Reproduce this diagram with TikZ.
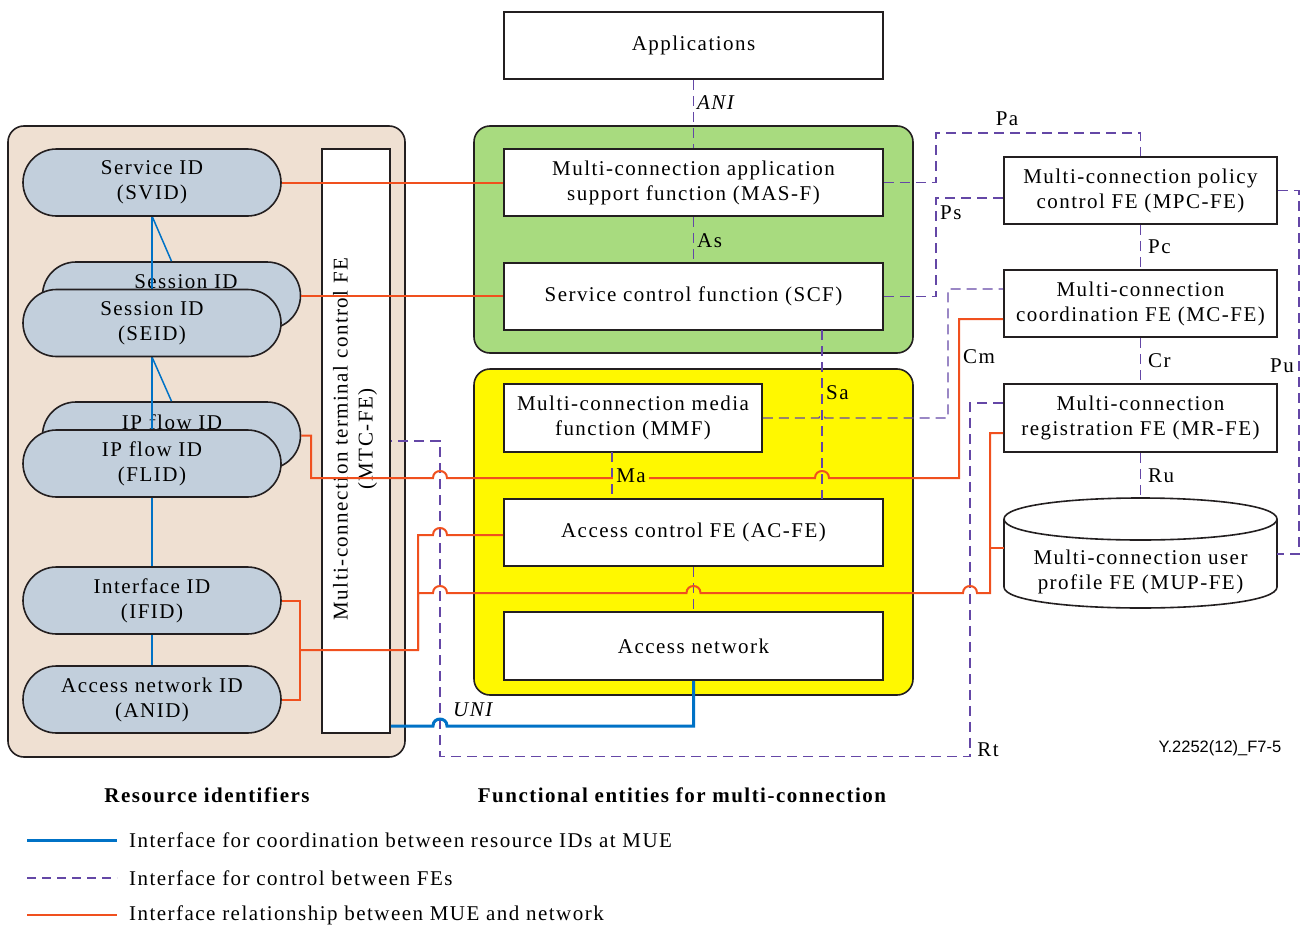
\documentclass[tikz,border=0pt]{standalone}
\usepackage{fontspec}
\setmainfont{Liberation Serif}[LetterSpace=7]
\newfontfamily\figsans{Liberation Sans}
\usetikzlibrary{shapes.misc}
\definecolor{beige}{HTML}{EFE0D2}
\definecolor{ovalc}{HTML}{C2CFDC}
\definecolor{greenc}{HTML}{A8DB7F}
\definecolor{yellowc}{HTML}{FFF800}
\definecolor{relc}{HTML}{F0501E}
\definecolor{ctlc}{HTML}{6447A6}
\definecolor{coordc}{HTML}{0072C6}
\definecolor{edgec}{HTML}{231F20}
\tikzset{
  every node/.style={font=\fontsize{21}{25}\selectfont, inner sep=0pt},
  fbox/.style={draw=edgec, fill=white, line width=1.6pt, align=center},
  panel/.style={draw=edgec, line width=1.6pt, rounded corners=16pt},
  oval/.style={rounded rectangle, rounded rectangle arc length=180, draw=edgec, fill=ovalc,
    line width=1.6pt, minimum width=258pt, minimum height=67pt, align=center},
  ctl/.style={draw=ctlc, line width=1.2pt, dash pattern=on 10pt off 6pt},
  rel/.style={draw=relc, line width=2pt},
  crd/.style={draw=coordc, line width=3pt},
  lbl/.style={anchor=west},
  jmp/.style 2 args={insert path={-- ({#1-7},#2) .. controls ({#1-7},{#2-9.3}) and ({#1+7},{#2-9.3}) .. ({#1+7},#2)}},
  sjmp/.style 2 args={insert path={-- ({#1-3},#2) .. controls ({#1-3},{#2-4}) and ({#1+3},{#2-4}) .. ({#1+3},#2)}},
}
\begin{document}
\begin{tikzpicture}[x=1pt,y=-1pt]
\useasboundingbox (0,0) rectangle (1301,926);

% panels
\draw[panel, fill=beige] (8,126) rectangle (405,757);
\draw[panel, fill=greenc] (474,126) rectangle (913,353);
\draw[panel, fill=yellowc] (474,369) rectangle (913,695);

% top and middle boxes
\node[fbox, minimum width=379pt, minimum height=67pt] (apps) at (693.5,45.5) {Applications};
\node[fbox, minimum width=379pt, minimum height=67pt] (masf) at (693.5,182.5) {Multi-connection application\\support function (MAS-F)};
\node[fbox, minimum width=379pt, minimum height=67pt] (scf) at (693.5,296.5) {Service control function (SCF)};
\node[fbox, minimum width=258pt, minimum height=68pt] (mmf) at (633,418) {Multi-connection media\\function (MMF)};
\node[fbox, minimum width=379pt, minimum height=67pt] (acfe) at (693.5,532.5) {Access control FE (AC-FE)};
\node[fbox, minimum width=379pt, minimum height=68pt] (an) at (693.5,646) {Access network};

% right boxes
\node[fbox, minimum width=273pt, minimum height=67pt] (mpc) at (1140.5,190.5) {Multi-connection policy\\control FE (MPC-FE)};
\node[fbox, minimum width=273pt, minimum height=67pt] (mcfe) at (1140.5,303.5) {Multi-connection\\coordination FE (MC-FE)};
\node[fbox, minimum width=273pt, minimum height=68pt] (mrfe) at (1140.5,418) {Multi-connection\\registration FE (MR-FE)};
% cylinder
\node[minimum width=273pt, minimum height=110pt] (mup) at (1140.5,553) {};
\filldraw[draw=edgec, fill=white, line width=1.6pt]
  (1004,519) .. controls (1004,491) and (1277,491) .. (1277,519)
  -- (1277,587) .. controls (1277,615) and (1004,615) .. (1004,587) -- cycle;
\draw[edgec, line width=1.6pt] (1004,519) .. controls (1004,547) and (1277,547) .. (1277,519);
\node[align=center] at (1140.5,572) {Multi-connection user\\profile FE (MUP-FE)};

% MTC-FE
\node[fbox, minimum width=68pt, minimum height=584pt] (mtc) at (356,441) {};
\node[rotate=90, align=center] at (355,439) {Multi-connection terminal control FE\\(MTC-FE)};

% resource id ovals
\node[oval] (sesb) at (171.5,295.5) {};
\node at (186,282) {Session ID};
\node[oval] (flb) at (171.5,435.5) {};
\node at (172,422) {IP flow ID};
\draw[coordc, line width=1.5pt] (152,216) -- (152,289);
\draw[coordc, line width=1.5pt] (152,216) -- (sesb.north);
\draw[coordc, line width=1.5pt] (152,357) -- (152,430);
\draw[coordc, line width=1.5pt] (152,357) -- (flb.north);
\node[oval] (svid) at (152,182.5) {Service ID\\(SVID)};
\node[oval] (seid) at (152,323) {Session ID\\(SEID)};
\node[oval] (flid) at (152,463.5) {IP flow ID\\(FLID)};
\node[oval] (ifid) at (152,600.5) {Interface ID\\(IFID)};
\node[oval] (anid) at (152,699.5) {Access network ID\\(ANID)};
\draw[coordc, line width=1.5pt] (flid.south) -- (ifid.north);
\draw[coordc, line width=1.5pt] (ifid.south) -- (anid.north);

% control interfaces (dashed)
\draw[ctl] (apps.south) -- (masf.north);
\node[lbl, font=\fontsize{21}{25}\selectfont\itshape] at (697,103) {ANI};
\draw[ctl] (masf.south) -- (scf.north);
\node[lbl] at (697,241) {As};
\draw[ctl] (masf.east) -- (936,182.5) -- (936,133) -| (mpc.north);
\node at (1007,119) {Pa};
\draw[ctl] (scf.east) -- (936,296.5) -- (936,198) -- (mpc.west |- 0,198);
\node[lbl] at (940,213) {Ps};
\draw[ctl] (mpc.south) -- (mcfe.north);
\node[lbl] at (1148,247) {Pc};
\draw[ctl] (mmf.east) [sjmp={822}{418}] -- (948,418) -- (948,289) -- (mcfe.west |- 0,289);
\node at (979,357) {Cm};
\draw[ctl] (mcfe.south) -- (mrfe.north);
\node[lbl] at (1148,361) {Cr};
\draw[ctl] (mrfe.south) -- (1140.5,498);
\node[lbl] at (1148,476) {Ru};
\draw[ctl] (mpc.east) -- (1299,190.5) -- (1299,554) -- (1277,554);
\node[anchor=east] at (1294,366) {Pu};
\draw[ctl] (822,330) -- (822,499);
\node[lbl] at (826,393) {Sa};
\draw[ctl] (612,452) -- (612,499);
\draw[ctl] (acfe.south) -- (an.north);
\draw[ctl] (mrfe.west |- 0,403) -- (970,403) -- (970,756.5) -- (440,756.5) -- (440,441) -- (mtc.east |- 0,441);
\node at (988,750) {Rt};

% relationship interfaces (red)
\draw[rel] (svid.east) -- (masf.west);
\draw[rel] (sesb.east) -- (scf.west |- sesb.east);
\draw[rel] (flb.east) -- (311,435.5) -- (311,478) [jmp={440}{478}] [jmp={822}{478}] -- (959,478) -- (959,319) -- (mcfe.west |- 0,319);
\draw[rel] (acfe.west |- 0,535) -- (447,535) .. controls (447,525.7) and (433,525.7) .. (433,535) -- (418,535) -- (418,650) -- (300,650);
\draw[rel] (ifid.east) -- (300,600.5) -- (300,699.5) -- (anid.east);
\draw[rel] (418,650) -- (418,593) [jmp={440}{593}] [jmp={693.5}{593}] [jmp={970}{593}] -- (990,593) -- (990,433) -- (mrfe.west |- 0,433);
\draw[rel] (990,548) -- (mup.west |- 0,548);
\node[fill=yellowc, inner xsep=3pt, inner ysep=1pt] at (631,476) {Ma};

% UNI (blue)
\draw[crd] (mtc.east |- 0,726) [jmp={440}{726}] -- (693.5,726) -- (an.south);
\node[lbl, font=\fontsize{21}{25}\selectfont\itshape] at (453,710) {UNI};

\node[font=\figsans\fontsize{16.5}{20}\selectfont] at (1220,748) {Y.2252(12)\_F7-5};

% captions
\node[font=\fontsize{21}{25}\selectfont\bfseries] at (207,795) {Resource identifiers};
\node[font=\fontsize{21}{25}\selectfont\bfseries] at (682,795) {Functional entities for multi-connection};

% legend
\coordinate (l1a) at (27,840); \coordinate (l1b) at (117,840);
\coordinate (l2a) at (27,878); \coordinate (l2b) at (117,878);
\coordinate (l3a) at (27,915); \coordinate (l3b) at (117,915);
\draw[crd] (l1a) -- (l1b);
\draw[ctl, dash pattern=on 9pt off 6pt] (l2a) -- (l2b);
\draw[rel] (l3a) -- (l3b);
\node[lbl] at (129,840) {Interface for coordination between resource IDs at MUE};
\node[lbl] at (129,878) {Interface for control between FEs};
\node[lbl] at (129,915) {Interface relationship between MUE and network};
\end{tikzpicture}
\end{document}
